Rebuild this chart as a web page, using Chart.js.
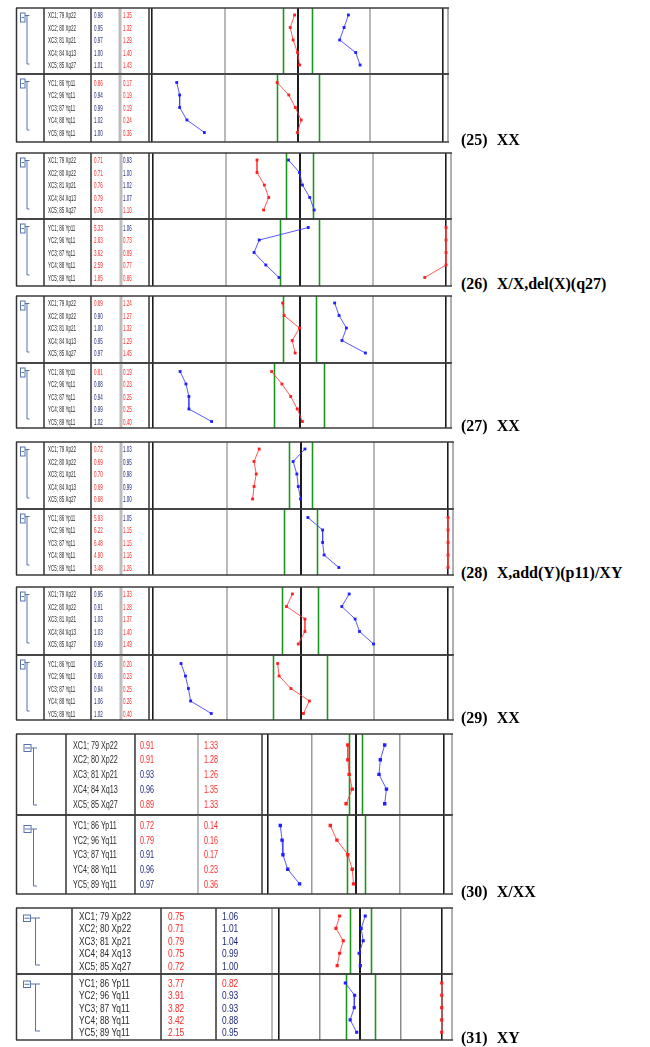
<!DOCTYPE html>
<html>
<head>
<meta charset="utf-8">
<script src="https://cdn.jsdelivr.net/npm/chart.js@4.4.1/dist/chart.umd.min.js"></script>
<style>
  html, body { margin: 0; padding: 0; background: #fff; }
  body { position: relative; width: 650px; height: 1047px; overflow: hidden; }
  canvas { position: absolute; }
  .title { position: absolute; left: 461px; font: bold 16px "Liberation Serif", "Times New Roman", serif; line-height: 16px; color: #000; white-space: nowrap; }
  .title span { margin-left: 9px; }
</style>
</head>
<body>
<script>
// ---- data ----
const PANEL_IDS = ['(25)', '(26)', '(27)', '(28)', '(29)', '(30)', '(31)'];
const KARYOTYPES = ['XX', 'X/X,del(X)(q27)', 'XX', 'X,add(Y)(p11)/XY', 'XX', 'X/XX', 'XY'];

const XC_LABELS = ['XC1; 79 Xp22', 'XC2; 80 Xp22', 'XC3; 81 Xp21', 'XC4; 84 Xq13', 'XC5; 85 Xq27'];
const YC_LABELS = ['YC1; 86 Yp11', 'YC2; 96 Yq11', 'YC3; 87 Yq11', 'YC4; 88 Yq11', 'YC5; 89 Yq11'];

// table columns (r = red text, b = blue text)
const XC_COL1 = [[0.98,0.95,0.97,1.00,1.01],[0.71,0.71,0.76,0.79,0.76],[0.89,0.90,1.00,0.95,0.97],[0.72,0.69,0.70,0.69,0.68],[0.95,0.91,1.03,1.03,0.99],[0.91,0.91,0.93,0.96,0.89],[0.75,0.71,0.79,0.75,0.72]];
const XC_COL1_FLAG = ['bbbbb','rrrrr','rbbbb','rrrrr','bbbbb','rrbbr','rrrrr'];
const XC_COL2 = [[1.35,1.32,1.29,1.40,1.43],[0.93,1.00,1.02,1.07,1.10],[1.24,1.27,1.32,1.29,1.45],[1.03,0.95,0.98,0.99,1.00],[1.33,1.28,1.37,1.40,1.49],[1.33,1.28,1.26,1.35,1.33],[1.06,1.01,1.04,0.99,1.00]];
const XC_COL2_FLAG = ['rrrrr','bbbbr','rrrrr','bbbbb','rrrrr','rrrrr','bbbbb'];
const YC_COL1 = [[0.86,0.94,0.99,1.02,1.00],[5.33,2.83,3.62,2.59,1.85],[0.81,0.88,0.94,0.99,1.02],[5.93,6.22,6.48,4.90,3.48],[0.85,0.86,0.94,1.06,1.02],[0.72,0.79,0.91,0.96,0.97],[3.77,3.91,3.82,3.42,2.15]];
const YC_COL1_FLAG = ['rbbbb','rrrrr','rbbbb','rrrrr','bbbbb','rrbbb','rrrrr'];
const YC_COL2 = [[0.17,0.19,0.19,0.24,0.36],[1.06,0.73,0.89,0.77,0.86],[0.19,0.23,0.25,0.25,0.40],[1.05,1.15,1.15,1.16,1.26],[0.20,0.23,0.25,0.26,0.40],[0.14,0.16,0.17,0.23,0.36],[0.82,0.93,0.93,0.88,0.95]];
const YC_COL2_FLAG = ['rrrrr','brrrr','rrrrr','brrrr','rrrrr','rrrrr','rbbbb'];

// plotted positions (grid units, centre line = 0, plot edges = -2 / 2)
const XC_RED_LINE = [[-0.04,-0.10,-0.06,0.00,0.03],[-0.58,-0.58,-0.48,-0.42,-0.49],[-0.23,-0.21,0.00,-0.10,-0.06],[-0.56,-0.63,-0.60,-0.63,-0.65],[-0.11,-0.19,0.06,0.06,-0.03],[-0.18,-0.18,-0.15,-0.08,-0.22],[-0.51,-0.60,-0.42,-0.51,-0.57]];
const XC_BLUE_LINE = [[0.70,0.64,0.58,0.80,0.86],[-0.15,0.00,0.04,0.14,0.20],[0.48,0.54,0.64,0.58,0.90],[0.06,-0.10,-0.05,-0.03,0.00],[0.66,0.56,0.74,0.80,0.99],[0.66,0.56,0.53,0.70,0.66],[0.12,0.02,0.07,-0.03,0.00]];
const YC_RED_LINE = [[-0.28,-0.12,-0.03,0.05,0.00],[2,2,2,2,1.71],[-0.38,-0.24,-0.12,-0.03,0.04],[2,2,2,2,2],[-0.31,-0.29,-0.13,0.12,0.04],[-0.58,-0.43,-0.18,-0.08,-0.05],[2,2,2,2,2]];
const YC_BLUE_LINE = [[-1.66,-1.62,-1.62,-1.52,-1.28],[0.12,-0.55,-0.62,-0.46,-0.28],[-1.63,-1.55,-1.51,-1.51,-1.20],[0.10,0.30,0.30,0.32,0.52],[-1.62,-1.56,-1.52,-1.49,-1.21],[-1.72,-1.68,-1.66,-1.55,-1.28],[-0.37,-0.14,-0.15,-0.25,-0.09]];
const XC_GREEN = [[-0.20,0.20],[-0.18,0.18],[-0.23,0.22],[-0.16,0.16],[-0.25,0.24],[-0.15,0.14],[-0.25,0.25]];
const YC_GREEN = [[-0.28,0.29],[-0.26,0.27],[-0.35,0.34],[-0.22,0.22],[-0.37,0.36],[-0.20,0.21],[-0.36,0.36]];

// ---- layout (page pixels) ----
const OFF = 15;
const LAYOUT = [
  { top: 8,   mid: 74,  bot: 142,  cols: [44, 91, 149],  gcol: 120, plotL: 152, plotR: 443,   outR: 448, style: 0 },
  { top: 153, mid: 219, bot: 286,  cols: [44, 91, 149],  gcol: 121, plotL: 153, plotR: 446,   outR: 451, style: 0 },
  { top: 296, mid: 363, bot: 428,  cols: [44, 91, 149],  gcol: 121, plotL: 153, plotR: 446,   outR: 451, style: 0 },
  { top: 442, mid: 509, bot: 575,  cols: [44, 91, 149],  gcol: 121, plotL: 153, plotR: 448,   outR: 453, style: 0 },
  { top: 587, mid: 655, bot: 720,  cols: [44, 91, 149],  gcol: 121, plotL: 153, plotR: 448,   outR: 453, style: 0 },
  { top: 734, mid: 815, bot: 894,  cols: [66, 135, 262], gcol: 198, plotL: 268, plotR: 443.5, outR: 452, style: 1 },
  { top: 908, mid: 974, bot: 1040, cols: [72, 161, 216], gcol: 272, plotL: 279, plotR: 441.7, outR: 452, style: 2 }
];
const STYLES = [
  { font: 9,  sx: 0.5,  tx: [48, 94, 123], xcRow: [7, 12.5], ycRow: [8.5, 12.5], grid: '#b9b9b9', gridW: 2,   pr: 2,
    icon: { bx: 20.5, by: 5,    bw: 4.5, bh: 9,   vx: 27,   vy0: 7.5, vy1: 56, tx: 29.5 } },
  { font: 10, sx: 0.72, tx: [73, 140, 204], xcRow: [11, 14.7], ycRow: [10.5, 14.6], grid: '#9a9a9a', gridW: 1.5, pr: 2.4,
    icon: { bx: 24,   by: 10.5, bw: 7,   bh: 7,   vx: 33.5, vy0: 14,  vy1: 71, tx: 37 } },
  { font: 11, sx: 0.76, tx: [79, 168, 222], xcRow: [8, 12.4],  ycRow: [9, 12.3],  grid: '#8c8c8c', gridW: 1.5, pr: 2.2,
    icon: { bx: 23.5, by: 7,    bw: 7,   bh: 6.5, vx: 35.5, vy0: 10,  vy1: 57, tx: 40 } }
];
const RED = '#ff2a2a';
const BLUE = '#1f2b7a';
const LINE_RED = 'rgba(255,60,60,0.85)';
const LINE_BLUE = 'rgba(60,60,255,0.85)';

// table, borders, icon and green limit lines
const tablePlugin = {
  id: 'table',
  beforeDatasetsDraw(chart, args, o) {
    const ctx = chart.ctx, xs = chart.scales.x, a = chart.chartArea;
    const g = o.part === 'xc' ? XC_GREEN[o.p] : YC_GREEN[o.p];
    ctx.save();
    ctx.strokeStyle = '#1d961d';
    ctx.lineWidth = 1.6;
    g.forEach(v => {
      const x = Math.round(xs.getPixelForValue(v)) + 0.5;
      ctx.beginPath(); ctx.moveTo(x, a.top); ctx.lineTo(x, a.bottom); ctx.stroke();
    });
    ctx.restore();
  },
  afterDraw(chart, args, o) {
    const L = LAYOUT[o.p], S = STYLES[L.style];
    const ctx = chart.ctx, ys = chart.scales.y, a = chart.chartArea;
    const xc = o.part === 'xc';
    const labels = xc ? XC_LABELS : YC_LABELS;
    const c1 = xc ? XC_COL1[o.p] : YC_COL1[o.p];
    const f1 = xc ? XC_COL1_FLAG[o.p] : YC_COL1_FLAG[o.p];
    const c2 = xc ? XC_COL2[o.p] : YC_COL2[o.p];
    const f2 = xc ? XC_COL2_FLAG[o.p] : YC_COL2_FLAG[o.p];
    const right = L.outR - OFF;

    ctx.save();
    // vertical column lines
    const vline = (px, col, w) => {
      const x = px - OFF;
      ctx.strokeStyle = col; ctx.lineWidth = w;
      ctx.beginPath(); ctx.moveTo(x, a.top); ctx.lineTo(x, a.bottom); ctx.stroke();
    };
    vline(16.5, '#333', 1.5);
    L.cols.forEach(c => vline(c, '#333', 1.5));
    vline(L.gcol, '#bdbdbd', L.style === 0 ? 3 : 2);
    vline(L.outR, '#b0b0b0', 2);
    // horizontal borders
    ctx.strokeStyle = '#3a3a3a'; ctx.lineWidth = 1.5;
    [a.top, a.bottom].forEach(y => {
      ctx.beginPath(); ctx.moveTo(16 - OFF, y); ctx.lineTo(right + 1, y); ctx.stroke();
    });

    // tree icon
    const ic = S.icon;
    ctx.strokeStyle = '#5673ab'; ctx.lineWidth = 1;
    const t = a.top;
    ctx.strokeRect(ic.bx - OFF, t + ic.by, ic.bw, ic.bh);
    ctx.beginPath();
    ctx.moveTo(ic.bx - OFF + 1, t + ic.by + ic.bh / 2); ctx.lineTo(ic.bx - OFF + ic.bw - 1, t + ic.by + ic.bh / 2);
    ctx.moveTo(ic.bx - OFF + ic.bw, t + ic.vy0); ctx.lineTo(ic.tx - OFF, t + ic.vy0);
    ctx.moveTo(ic.vx - OFF, t + ic.vy0); ctx.lineTo(ic.vx - OFF, t + ic.vy1);
    ctx.lineTo(ic.tx - OFF, t + ic.vy1);
    ctx.stroke();

    // text rows
    ctx.font = S.font + 'px "Liberation Sans", Arial, sans-serif';
    ctx.textBaseline = 'middle';
    const txt = (s, px, y, col) => {
      ctx.save();
      ctx.translate(px - OFF, y);
      ctx.scale(S.sx, 1);
      ctx.fillStyle = col;
      ctx.fillText(s, 0, 0);
      ctx.restore();
    };
    for (let i = 0; i < labels.length; i++) {
      const y = ys.getPixelForValue(i) + 1;
      txt(labels[i], S.tx[0], y, '#2a2a2a');
      txt(c1[i].toFixed(2), S.tx[1], y, f1[i] === 'r' ? RED : BLUE);
      txt(c2[i].toFixed(2), S.tx[2], y, f2[i] === 'r' ? RED : BLUE);
    }
    ctx.restore();
  }
};

function makeChart(p, part) {
  const L = LAYOUT[p], S = STYLES[L.style];
  const top = part === 'xc' ? L.top : L.mid;
  const bot = part === 'xc' ? L.mid : L.bot;
  const H = bot - top;
  const W = L.outR + 2 - OFF;
  const cv = document.createElement('canvas');
  cv.width = W; cv.height = H + 2;
  cv.style.left = OFF + 'px';
  cv.style.top = (top - 1) + 'px';
  document.body.appendChild(cv);

  const redVals = part === 'xc' ? XC_RED_LINE[p] : YC_RED_LINE[p];
  const blueVals = part === 'xc' ? XC_BLUE_LINE[p] : YC_BLUE_LINE[p];
  const r0 = (part === 'xc' ? S.xcRow : S.ycRow)[0];
  const step = (part === 'xc' ? S.xcRow : S.ycRow)[1];
  const series = (vals, line, pt) => ({
    data: vals.map((v, i) => ({ x: v, y: i })),
    borderColor: line, backgroundColor: pt, pointBorderColor: pt, pointBackgroundColor: pt,
    borderWidth: 1, pointStyle: 'rect', pointRadius: S.pr, pointBorderWidth: 0,
    tension: 0, clip: 6
  });

  new Chart(cv, {
    type: 'line',
    data: { datasets: [series(redVals, LINE_RED, '#ff1e1e'), series(blueVals, LINE_BLUE, '#1e1eff')] },
    options: {
      responsive: false,
      animation: false,
      devicePixelRatio: 1,
      events: [],
      layout: { autoPadding: false, padding: { left: L.plotL - OFF, right: W - (L.plotR - OFF), top: 1, bottom: 1 } },
      plugins: { legend: { display: false }, tooltip: { enabled: false }, table: { p: p, part: part } },
      scales: {
        x: {
          type: 'linear', min: -2, max: 2,
          ticks: { display: false, stepSize: 1 },
          border: { display: false },
          grid: {
            drawTicks: false,
            color: c => (c.tick.value === 0 || Math.abs(c.tick.value) === 2) ? '#1c1c1c' : S.grid,
            lineWidth: c => c.tick.value === 0 ? 2 : (Math.abs(c.tick.value) === 2 ? 1.6 : S.gridW)
          },
          afterFit: s => { s.height = 0; }
        },
        y: { type: 'linear', display: false, reverse: true, min: -r0 / step, max: (H - r0) / step }
      }
    },
    plugins: [tablePlugin]
  });
}

LAYOUT.forEach((L, p) => {
  makeChart(p, 'xc');
  makeChart(p, 'yc');
  const d = document.createElement('div');
  d.className = 'title';
  d.style.top = (L.bot - 10) + 'px';
  d.textContent = PANEL_IDS[p];
  const s = document.createElement('span');
  s.textContent = KARYOTYPES[p];
  d.appendChild(s);
  document.body.appendChild(d);
});
</script>
</body>
</html>
